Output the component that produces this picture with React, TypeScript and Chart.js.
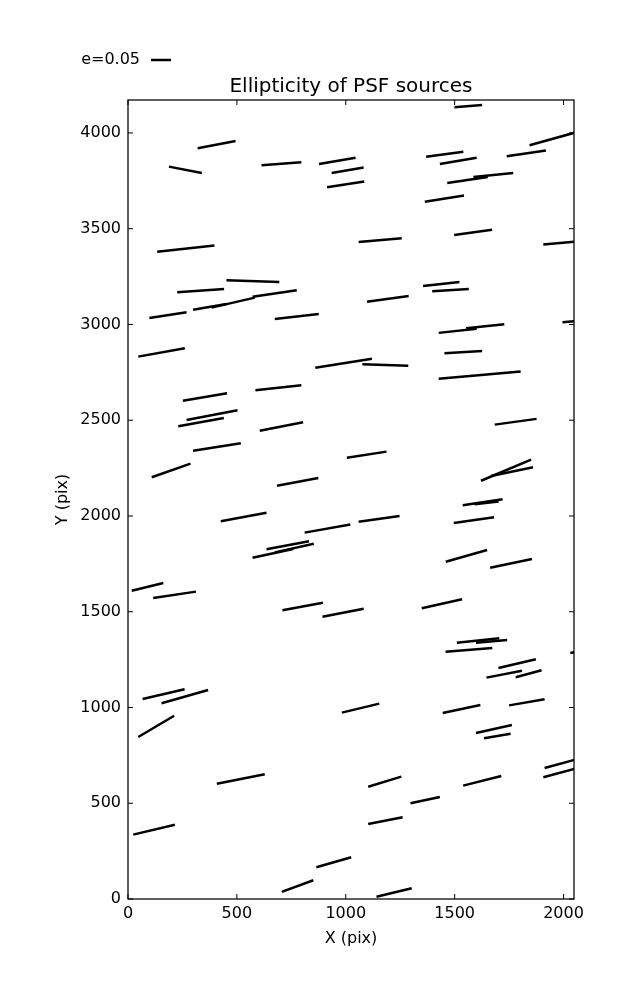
import React, { useEffect, useRef } from "react";
import { Chart, registerables } from "chart.js";

Chart.register(...registerables);

// Whisker segments (start / end) in detector pixel coordinates
const segStartX = [1499, 320, 1844, 188, 613, 877, 1369, 1739, 1432, 935, 1586, 1466, 914, 1363, 134, 1059, 1498, 1907, 452, 1355, 226, 1397, 572, 1097, 299, 384, 98, 674, 1995, 1427, 1553, 47, 1453, 860, 1076, 1427, 585, 252, 269, 231, 1684, 605, 299, 1005, 109, 1621, 1667, 684, 1537, 1591, 426, 1059, 1496, 811, 636, 572, 674, 1459, 1663, 17, 116, 709, 893, 1349, 1510, 1598, 1458, 2031, 1701, 1646, 1780, 67, 154, 1750, 1445, 982, 47, 1598, 1635, 1913, 1907, 408, 1103, 1539, 1297, 1103, 24, 865, 706, 1141];
const segStartY = [4134, 3920, 3936, 3824, 3831, 3838, 3876, 3878, 3838, 3791, 3770, 3739, 3716, 3641, 3380, 3431, 3467, 3417, 3231, 3201, 3168, 3173, 3145, 3119, 3077, 3088, 3034, 3029, 3012, 2956, 2980, 2832, 2850, 2774, 2792, 2717, 2656, 2602, 2501, 2468, 2477, 2445, 2341, 2304, 2202, 2184, 2209, 2158, 2056, 2061, 1972, 1970, 1963, 1913, 1826, 1782, 1810, 1761, 1730, 1610, 1572, 1508, 1474, 1518, 1338, 1338, 1291, 1285, 1206, 1156, 1158, 1044, 1022, 1011, 971, 973, 846, 867, 839, 684, 636, 602, 586, 592, 500, 392, 336, 166, 37, 12];
const segEndX = [1626, 494, 2072, 339, 796, 1045, 1540, 1919, 1601, 1082, 1769, 1652, 1085, 1543, 397, 1257, 1672, 2090, 695, 1522, 441, 1565, 775, 1289, 452, 582, 269, 876, 2164, 1601, 1728, 261, 1626, 1120, 1287, 1803, 796, 455, 503, 440, 1876, 804, 518, 1187, 287, 1851, 1860, 874, 1720, 1702, 636, 1247, 1681, 1021, 831, 758, 853, 1649, 1855, 162, 312, 895, 1082, 1534, 1705, 1741, 1673, 2164, 1873, 1809, 1899, 260, 368, 1913, 1618, 1154, 212, 1763, 1757, 2090, 2090, 628, 1255, 1714, 1432, 1261, 215, 1025, 851, 1303];
const segEndY = [4146, 3958, 4008, 3791, 3847, 3871, 3902, 3908, 3871, 3819, 3791, 3770, 3746, 3673, 3412, 3450, 3494, 3436, 3222, 3222, 3185, 3185, 3179, 3149, 3107, 3140, 3064, 3055, 3029, 2978, 3001, 2876, 2862, 2821, 2785, 2754, 2683, 2641, 2552, 2512, 2507, 2489, 2380, 2336, 2273, 2294, 2254, 2198, 2087, 2075, 2017, 2000, 1993, 1955, 1868, 1828, 1855, 1822, 1775, 1650, 1605, 1547, 1516, 1565, 1361, 1352, 1311, 1311, 1252, 1192, 1194, 1095, 1091, 1043, 1013, 1020, 957, 909, 863, 739, 692, 651, 639, 642, 533, 427, 388, 218, 98, 56];

const xTickValues = [0, 500, 1000, 1500, 2000];
const yTickValues = [0, 500, 1000, 1500, 2000, 2500, 3000, 3500, 4000];
const X_MAX = 2048;
const Y_MAX = 4172;
const titleText = "Ellipticity of PSF sources";
const xTitle = "X (pix)";
const yTitle = "Y (pix)";
const keyLabel = "e=0.05";

const framePlugin = {
  id: "frameAndKey",
  afterDraw(chart: any) {
    const { ctx, chartArea, scales } = chart;
    const { left, right, top, bottom } = chartArea;
    ctx.save();
    ctx.strokeStyle = "#000";
    ctx.lineWidth = 1.25;
    ctx.strokeRect(left, top, right - left, bottom - top);
    const len = 5;
    ctx.lineWidth = 1;
    const line = (a: number, b: number, c: number, d: number) => {
      ctx.beginPath();
      ctx.moveTo(a, b);
      ctx.lineTo(c, d);
      ctx.stroke();
    };
    xTickValues.forEach((v) => {
      const px = scales.x.getPixelForValue(v);
      line(px, bottom, px, bottom - len);
      line(px, top, px, top + len);
    });
    yTickValues.forEach((v) => {
      const py = scales.y.getPixelForValue(v);
      line(left, py, left + len, py);
      line(right, py, right - len, py);
    });
    // ellipticity key
    ctx.font = "16px 'DejaVu Sans', sans-serif";
    ctx.fillStyle = "#000";
    ctx.textAlign = "right";
    ctx.textBaseline = "middle";
    ctx.fillText(keyLabel, 140, 60);
    ctx.lineWidth = 2.5;
    line(151, 60, 171, 60);
    ctx.restore();
  },
};

export default function App() {
  const ref = useRef<HTMLCanvasElement | null>(null);

  useEffect(() => {
    if (!ref.current) return;
    Chart.defaults.font.family = "'DejaVu Sans', sans-serif";
    Chart.defaults.color = "#000";
    const datasets = segStartX.map((x0, i) => ({
      data: [
        { x: x0, y: segStartY[i] },
        { x: segEndX[i], y: segEndY[i] },
      ],
      showLine: true,
      borderColor: "#000",
      backgroundColor: "#000",
      borderWidth: 2.5,
      pointRadius: 0,
      pointHoverRadius: 0,
      clip: 0,
    }));
    const chart = new Chart(ref.current, {
      type: "scatter",
      data: { datasets },
      plugins: [framePlugin],
      options: {
        responsive: false,
        animation: false,
        events: [],
        layout: { padding: { left: 0, right: 63, top: 0, bottom: 0 } },
        plugins: {
          legend: { display: false },
          tooltip: { enabled: false },
          title: {
            display: true,
            text: titleText,
            color: "#000",
            fullSize: false,
            font: { size: 20, weight: "normal" },
            padding: { top: 75, bottom: 1 },
          },
        },
        scales: {
          x: {
            type: "linear",
            min: 0,
            max: X_MAX,
            afterBuildTicks: (s: any) => {
              s.ticks = xTickValues.map((v) => ({ value: v }));
            },
            afterFit: (s: any) => {
              s.height = 101;
            },
            grid: { display: false, drawTicks: false },
            border: { display: false },
            ticks: {
              color: "#000",
              font: { size: 16 },
              padding: 5,
              maxRotation: 0,
              autoSkip: false,
              callback: (v: any) => String(v),
            },
            title: {
              display: true,
              text: xTitle,
              color: "#000",
              font: { size: 16 },
              padding: { top: 0, bottom: 52 },
            },
          },
          y: {
            type: "linear",
            min: 0,
            max: Y_MAX,
            afterBuildTicks: (s: any) => {
              s.ticks = yTickValues.map((v) => ({ value: v }));
            },
            afterFit: (s: any) => {
              s.width = 128;
            },
            grid: { display: false, drawTicks: false },
            border: { display: false },
            ticks: {
              color: "#000",
              font: { size: 16 },
              padding: 7,
              autoSkip: false,
              callback: (v: any) => String(v),
            },
            title: {
              display: true,
              text: yTitle,
              color: "#000",
              font: { size: 16 },
              padding: { top: 53, bottom: 0 },
            },
          },
        },
      } as any,
    });
    return () => chart.destroy();
  }, []);

  return (
    <div style={{ position: "absolute", left: 0, top: 0, width: 637, height: 1000, background: "#fff" }}>
      <canvas ref={ref} width={637} height={1000} style={{ display: "block" }} />
    </div>
  );
}
